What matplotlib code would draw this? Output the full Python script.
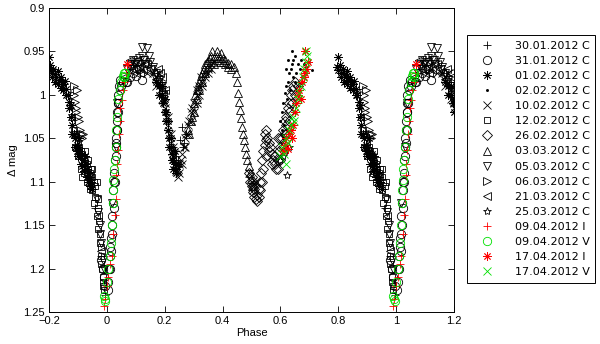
import numpy as np
import matplotlib
matplotlib.use("Agg")
import matplotlib.pyplot as plt

plt.rcParams['font.family'] = ['Liberation Sans', 'DejaVu Sans']

labels = ["30.01.2012 C", "31.01.2012 C", "01.02.2012 C", "02.02.2012 C",
          "10.02.2012 C", "12.02.2012 C", "26.02.2012 C", "03.03.2012 C",
          "05.03.2012 C", "06.03.2012 C", "21.03.2012 C", "25.03.2012 C",
          "09.04.2012 I", "09.04.2012 V", "17.04.2012 I", "17.04.2012 V"]

# phases (0..1) and delta-mag values
p_3001 = [0.245, 0.25, 0.252, 0.258, 0.262, 0.268, 0.272, 0.23, 0.24, 0.19, 0.2,
          0.96, 0.98, 0.995]
m_3001 = [1.075, 1.082, 1.052, 1.037, 1.06, 1.055, 1.045, 1.06, 1.07, 0.985, 0.995,
          1.13, 1.185, 1.23]

p_3101 = [0.005, 0.008, 0.01, 0.012, 0.014, 0.016, 0.018, 0.02, 0.022, 0.024, 0.026,
          0.028, 0.03, 0.032, 0.034, 0.035, 0.036, 0.037, 0.039, 0.042, 0.047, 0.08,
          0.12, 0.1, 0.065, 0.985, 0.99,
          0.003, 0.011, 0.015, 0.019, 0.023, 0.027, 0.031, 0.033, 0.036, 0.038, 0.04,
          0.044, 0.05, 0.055, 0.07, 0.09, 0.11, 0.98, 0.995]
m_3101 = [1.215, 1.2, 1.185, 1.175, 1.165, 1.16, 1.14, 1.125, 1.11, 1.1, 1.09,
          1.075, 1.06, 1.05, 1.04, 1.03, 1.02, 1.01, 1.0, 0.99, 0.983, 0.98,
          0.983, 0.978, 0.985, 1.2, 1.21,
          1.225, 1.2, 1.18, 1.15, 1.13, 1.1, 1.07, 1.055, 1.04, 1.02, 1.01,
          0.995, 0.99, 0.985, 0.985, 0.975, 0.97, 1.19, 1.22]

p_0102 = [0.80, 0.795, 0.80, 0.805, 0.81, 0.815, 0.82, 0.825, 0.83, 0.835, 0.84, 0.845,
          0.85, 0.855, 0.86, 0.865, 0.87, 0.875, 0.88, 0.885, 0.89, 0.895, 0.9, 0.905,
          0.91, 0.915, 0.92, 0.925, 0.93, 0.935, 0.94, 0.945,
          0.17, 0.18, 0.19, 0.195, 0.2, 0.205, 0.21, 0.215, 0.22, 0.225, 0.23, 0.235, 0.24,
          0.81, 0.82, 0.83, 0.84, 0.85, 0.86, 0.87, 0.875, 0.88, 0.89, 0.895, 0.9,
          0.91, 0.915, 0.92, 0.93, 0.935, 0.94, 0.95, 0.905, 0.925,
          0.18, 0.19, 0.2, 0.21, 0.22, 0.225, 0.23, 0.24, 0.245, 0.215, 0.205, 0.235]
m_0102 = [0.957, 0.968, 0.972, 0.966, 0.975, 0.97, 0.976, 0.98, 0.973, 0.983, 0.979, 0.985,
          0.988, 0.984, 0.993, 1.0, 1.008, 1.012, 1.035, 1.045, 1.05, 1.058, 1.06, 1.065,
          1.07, 1.068, 1.075, 1.08, 1.085, 1.09, 1.095, 1.1,
          0.985, 0.99, 1.0, 1.01, 1.02, 1.03, 1.04, 1.05, 1.06, 1.068, 1.075, 1.08, 1.085,
          0.98, 0.985, 0.988, 0.992, 0.995, 1.0, 1.015, 1.025, 1.045, 1.06, 1.065, 1.07,
          1.08, 1.082, 1.088, 1.095, 1.1, 1.105, 1.108, 1.05, 1.07,
          1.0, 0.99, 1.005, 1.03, 1.05, 1.075, 1.085, 1.09, 1.08, 1.06, 1.02, 1.065]

p_0202 = [0.6, 0.605, 0.61, 0.612, 0.615, 0.62, 0.622, 0.625, 0.63, 0.632, 0.635, 0.64,
          0.642, 0.645, 0.65, 0.652, 0.655, 0.66, 0.665, 0.668, 0.672, 0.675, 0.68, 0.69,
          0.7, 0.71, 0.64, 0.627, 0.62, 0.605, 0.61]
m_0202 = [1.03, 1.02, 1.01, 1.035, 0.998, 0.99, 1.005, 0.985, 0.975, 0.995, 0.97, 0.965,
          0.98, 0.96, 0.955, 0.985, 0.975, 0.965, 0.99, 0.97, 0.96, 0.98, 0.965, 0.968,
          0.962, 0.972, 0.95, 0.96, 0.97, 1.04, 1.05]

p_1002 = [0.16, 0.17, 0.18, 0.185, 0.19, 0.195, 0.2, 0.205, 0.21, 0.215, 0.22, 0.225,
          0.23, 0.235, 0.24, 0.245, 0.25, 0.255, 0.26, 0.265, 0.27, 0.275, 0.28, 0.285,
          0.29, 0.295, 0.3, 0.31, 0.32, 0.33, 0.34, 0.35, 0.36,
          0.49, 0.5, 0.505, 0.51, 0.515,
          0.26, 0.27, 0.28, 0.29, 0.3, 0.31, 0.32, 0.33, 0.34, 0.35, 0.36, 0.37,
          0.25, 0.245, 0.31, 0.325, 0.2, 0.21, 0.22, 0.23, 0.17, 0.18, 0.1, 0.12, 0.14]
m_1002 = [0.975, 0.98, 0.985, 0.995, 1.005, 1.006, 1.015, 1.025, 1.035, 1.045, 1.055, 1.065,
          1.07, 1.08, 1.088, 1.085, 1.08, 1.075, 1.068, 1.06, 1.05, 1.045, 1.035, 1.03,
          1.02, 1.015, 1.01, 1.0, 0.99, 0.985, 0.975, 0.97, 0.965,
          1.09, 1.1, 1.11, 1.105, 1.1,
          1.08, 1.06, 1.045, 1.03, 1.02, 1.01, 1.0, 0.99, 0.98, 0.975, 0.97, 0.962,
          1.09, 1.095, 0.995, 0.98, 1.01, 1.025, 1.045, 1.06, 0.99, 0.975, 0.965, 0.97, 0.975]

p_1202 = [0.88, 0.885, 0.89, 0.9, 0.905, 0.91, 0.915, 0.92, 0.925, 0.93, 0.935, 0.94,
          0.945, 0.95, 0.955, 0.96, 0.965, 0.968, 0.97, 0.973, 0.976, 0.978, 0.98, 0.983,
          0.986, 0.988,
          0.89, 0.9, 0.91, 0.92, 0.93, 0.94, 0.95, 0.96, 0.955, 0.965, 0.97, 0.975,
          0.98, 0.985, 0.99, 0.925, 0.935, 0.945, 0.915, 0.95]
m_1202 = [1.026, 1.04, 1.045, 1.055, 1.06, 1.065, 1.07, 1.072, 1.078, 1.08, 1.085, 1.09,
          1.092, 1.095, 1.1, 1.105, 1.1, 1.12, 1.13, 1.145, 1.16, 1.175, 1.185, 1.2,
          1.21, 1.22,
          1.06, 1.07, 1.085, 1.09, 1.1, 1.108, 1.11, 1.118, 1.125, 1.14, 1.155, 1.17,
          1.195, 1.215, 1.225, 1.065, 1.075, 1.085, 1.095, 1.085]

p_2602 = [0.49, 0.495, 0.5, 0.505, 0.51, 0.515, 0.52, 0.525, 0.53, 0.532, 0.535, 0.54,
          0.545, 0.55, 0.555, 0.56, 0.565, 0.57, 0.575, 0.58, 0.585, 0.59, 0.595, 0.6,
          0.605, 0.61, 0.615, 0.62, 0.625, 0.63, 0.635, 0.64, 0.645, 0.65, 0.62, 0.63,
          0.5, 0.505, 0.51, 0.52, 0.525, 0.53, 0.535, 0.54, 0.55, 0.56, 0.57, 0.58,
          0.59, 0.6, 0.61, 0.62, 0.63, 0.64, 0.65, 0.66, 0.545, 0.55, 0.6, 0.59, 0.615]
m_2602 = [1.09, 1.1, 1.105, 1.112, 1.118, 1.12, 1.115, 1.108, 1.1, 1.09, 1.075, 1.065,
          1.058, 1.052, 1.05, 1.055, 1.06, 1.068, 1.075, 1.08, 1.085, 1.075, 1.065, 1.06,
          1.05, 1.04, 1.03, 1.025, 1.015, 1.01, 1.0, 0.995, 0.99, 0.985, 1.045, 1.03,
          1.095, 1.1, 1.108, 1.122, 1.118, 1.11, 1.1, 1.085, 1.07, 1.065, 1.08, 1.07,
          1.085, 1.075, 1.06, 1.035, 1.02, 1.01, 1.0, 0.99, 1.045, 1.04, 1.05, 1.05, 1.045]

p_0303 = [0.3, 0.305, 0.31, 0.315, 0.32, 0.325, 0.33, 0.335, 0.34, 0.345, 0.35, 0.355,
          0.36, 0.37, 0.38, 0.39, 0.4, 0.41, 0.42, 0.43, 0.44, 0.445, 0.45, 0.453,
          0.456, 0.46, 0.463, 0.467, 0.47, 0.474, 0.478, 0.482, 0.486, 0.49, 0.494,
          0.498, 0.502, 0.38,
          0.3, 0.31, 0.32, 0.33, 0.34, 0.35, 0.36, 0.37, 0.38, 0.39, 0.4, 0.41, 0.42,
          0.43, 0.29, 0.28, 0.285, 0.295, 0.365, 0.395]
m_0303 = [1.01, 1.0, 0.995, 0.99, 0.985, 0.978, 0.975, 0.97, 0.965, 0.962, 0.96, 0.958,
          0.955, 0.958, 0.96, 0.962, 0.962, 0.965, 0.963, 0.965, 0.968, 0.975, 0.985, 0.998,
          1.008, 1.017, 1.027, 1.037, 1.045, 1.052, 1.06, 1.068, 1.075, 1.082, 1.09,
          1.097, 1.105, 0.95,
          1.02, 1.005, 0.995, 0.985, 0.975, 0.968, 0.962, 0.965, 0.955, 0.958, 0.958, 0.96,
          0.968, 0.97, 1.03, 1.04, 1.045, 1.025, 0.95, 0.952]

p_0503 = [0.07, 0.08, 0.09, 0.1, 0.11, 0.12, 0.13, 0.14, 0.15, 0.16, 0.17, 0.18,
          0.19, 0.145, 0.165, 0.965, 0.97, 0.975, 0.98, 0.018, 0.03, 0.036,
          0.075, 0.085, 0.095, 0.105, 0.115, 0.125, 0.135, 0.155, 0.175, 0.185, 0.195,
          0.975, 0.985, 0.99, 0.12]
m_0503 = [0.97, 0.965, 0.96, 0.962, 0.958, 0.955, 0.96, 0.946, 0.962, 0.968, 0.975, 0.983,
          0.99, 0.955, 0.98, 1.12, 1.135, 1.15, 1.17, 1.125, 1.06, 1.01,
          0.975, 0.97, 0.965, 0.97, 0.965, 0.96, 0.965, 0.97, 0.985, 0.99, 1.0,
          1.16, 1.19, 1.2, 0.945]

p_0603 = [0.885, 0.888, 0.89, 0.893, 0.895, 0.9, 0.903, 0.906, 0.91, 0.913, 0.892, 0.917]
m_0603 = [0.99, 1.0, 1.008, 1.015, 0.995, 1.025, 1.03, 1.04, 1.045, 1.05, 1.02, 1.045]

p_2103 = [0.09, 0.1, 0.11, 0.125, 0.13, 0.15, 0.175, 0.19, 0.195,
          0.06, 0.075, 0.08, 0.105, 0.115, 0.14, 0.16, 0.17, 0.185, 0.2, 0.97, 0.98]
m_2103 = [0.97, 0.975, 0.968, 0.972, 0.965, 0.97, 0.97, 0.98, 1.0,
          0.98, 0.965, 0.96, 0.96, 0.975, 0.965, 0.975, 0.982, 0.975, 0.995, 1.14, 1.18]

p_2503 = [0.622, 0.6, 0.61, 0.63, 0.615]
m_2503 = [1.092, 1.075, 1.07, 1.06, 1.065]

p_0904I = [0.99, 0.993, 0.0, 0.005, 0.012, 0.017, 0.022, 0.028, 0.031, 0.033, 0.035,
           0.038, 0.041, 0.044, 0.047, 0.052, 0.056, 0.06, 0.065]
m_0904I = [1.243, 1.235, 1.22, 1.21, 1.195, 1.186, 1.16, 1.138, 1.12, 1.092, 1.08,
           1.063, 1.045, 1.03, 1.015, 1.006, 0.995, 0.985, 0.975]

p_0904V = [0.992, 0.99, 0.995, 0.0, 0.005, 0.01, 0.013, 0.017, 0.02, 0.021, 0.022,
           0.025, 0.028, 0.03, 0.033, 0.036, 0.04, 0.045, 0.05, 0.055, 0.058, 0.062, 0.06]
m_0904V = [1.235, 1.232, 1.237, 1.215, 1.2, 1.186, 1.17, 1.15, 1.124, 1.11, 1.098,
           1.085, 1.075, 1.06, 1.04, 1.025, 1.005, 0.995, 0.985, 0.978, 0.975, 0.975, 0.98]

p_1704I = [0.61, 0.615, 0.62, 0.625, 0.63, 0.635, 0.64, 0.645, 0.65, 0.655, 0.66,
           0.665, 0.67, 0.675, 0.68, 0.685, 0.69, 0.695, 0.685, 0.068]
m_1704I = [1.065, 1.058, 1.05, 1.062, 1.045, 1.04, 1.05, 1.035, 1.02, 1.01, 1.0,
           0.995, 1.005, 0.985, 0.98, 0.975, 0.97, 0.962, 0.95, 0.965]

p_1704V = [0.6, 0.605, 0.612, 0.618, 0.625, 0.63, 0.636, 0.642, 0.648, 0.655, 0.66,
           0.665, 0.672, 0.678, 0.683, 0.688, 0.692, 0.688, 0.62]
m_1704V = [1.07, 1.06, 1.068, 1.05, 1.055, 1.04, 1.035, 1.025, 1.03, 1.015, 1.005,
           0.998, 0.99, 0.98, 0.97, 0.962, 0.955, 0.95, 1.08]

series = [(p_3001, m_3001), (p_3101, m_3101), (p_0102, m_0102), (p_0202, m_0202),
          (p_1002, m_1002), (p_1202, m_1202), (p_2602, m_2602), (p_0303, m_0303),
          (p_0503, m_0503), (p_0603, m_0603), (p_2103, m_2103), (p_2503, m_2503),
          (p_0904I, m_0904I), (p_0904V, m_0904V), (p_1704I, m_1704I), (p_1704V, m_1704V)]

GREEN = '#00e000'
styles = [('+', 'k', True), ('o', 'k', False), ((8, 2, 0), 'k', True), ('.', 'k', True),
          ('x', 'k', True), ('s', 'k', False), ('D', 'k', False), ('^', 'k', False),
          ('v', 'k', False), ('>', 'k', False), ('<', 'k', False), ('*', 'k', False),
          ('+', 'r', True), ('o', GREEN, False), ((8, 2, 0), 'r', True), ('x', GREEN, True)]

fig = plt.figure(figsize=(6.0, 3.44), dpi=100)
ax = fig.add_axes([0.0817, 0.093, 0.675, 0.884])

for (p, m), (mk, col, filled), lab in zip(series, styles, labels):
    p = np.asarray(p, float)
    m = np.asarray(m, float)
    x = np.concatenate([p, p + 1, p - 1])
    y = np.concatenate([m, m, m])
    keep = (x >= -0.2) & (x <= 1.2)
    ms = 6
    if mk == '.':
        ms = 3
    if mk in ('D', 's'):
        ms = 5
    ax.plot(x[keep], y[keep], linestyle='none', marker=mk, markersize=ms,
            markeredgecolor=col, markerfacecolor=(col if filled else 'none'),
            markeredgewidth=0.6, label=lab)

ax.set_xlim(-0.2, 1.2)
ax.set_ylim(1.25, 0.9)
xt = [-0.2, 0, 0.2, 0.4, 0.6, 0.8, 1, 1.2]
yt = [0.9, 0.95, 1, 1.05, 1.1, 1.15, 1.2, 1.25]
ax.set_xticks(xt)
ax.set_xticklabels(['\u22120.2', '0', '0.2', '0.4', '0.6', '0.8', '1', '1.2'])
ax.set_yticks(yt)
ax.set_yticklabels(['0.9', '0.95', '1', '1.05', '1.1', '1.15', '1.2', '1.25'])
ax.tick_params(direction='in', top=True, right=True, length=4, width=0.6,
               labelsize=8, pad=3)
for s in ax.spines.values():
    s.set_linewidth(0.7)
ax.set_xlabel('Phase', fontsize=8, labelpad=1)
ax.set_ylabel('\u0394 mag', fontsize=8, labelpad=4)

leg = fig.legend(loc='upper left', bbox_to_anchor=(0.778, 0.898),
                 prop={'family': 'DejaVu Sans', 'size': 8},
                 frameon=True, fancybox=False, edgecolor='k', framealpha=1,
                 handlelength=2.6, handletextpad=1.2, labelspacing=0.46,
                 borderpad=0.5, borderaxespad=0, numpoints=1)
leg.get_frame().set_linewidth(0.7)

fig.savefig('out.png', dpi=100)
